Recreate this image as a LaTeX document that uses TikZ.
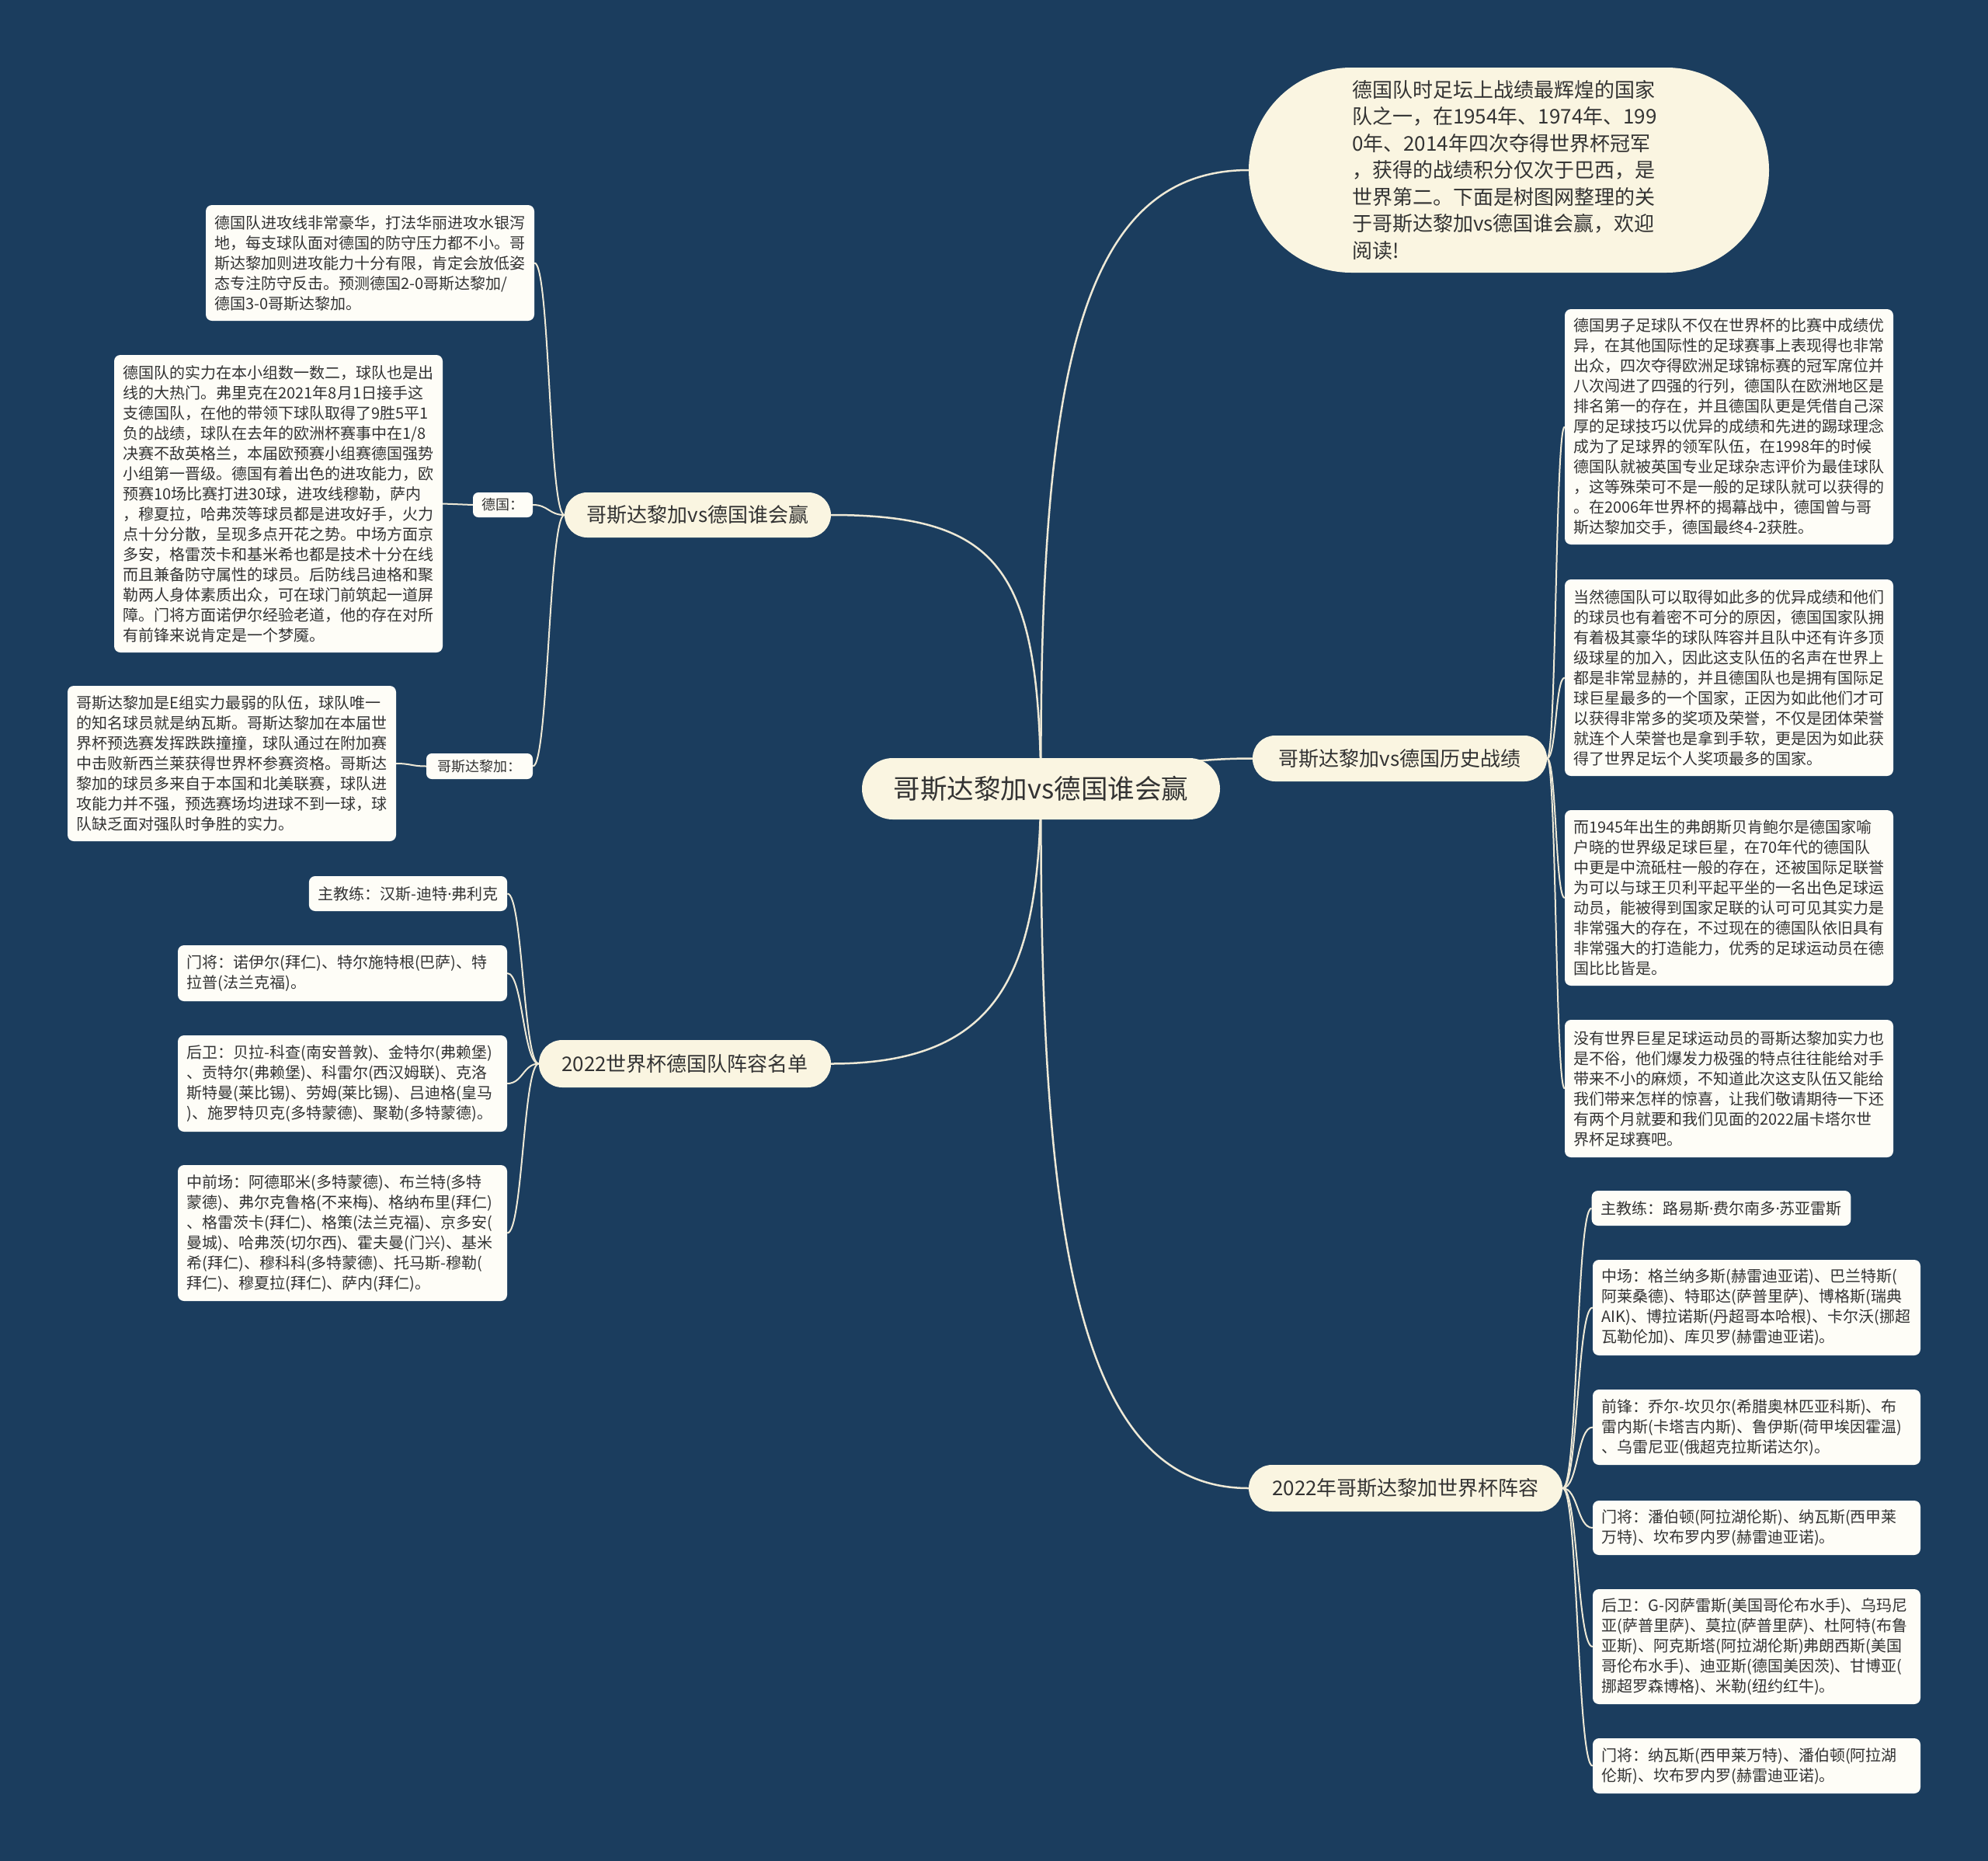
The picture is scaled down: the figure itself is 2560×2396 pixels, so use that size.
\documentclass[tikz,border=0pt]{standalone}
\usepackage{fontspec}
\setmainfont{Noto Sans CJK SC}
\newfontfamily\latinf{Noto Sans}
\newcommand{\mdot}{{\latinf ·}}
\pgfdeclarelayer{bg}
\pgfdeclarelayer{lines}
\pgfsetlayers{bg,lines,main}
\definecolor{bgc}{HTML}{1B3D5E}
\definecolor{creamc}{HTML}{FAF5E1}
\definecolor{leafc}{HTML}{FEFDF7}
\definecolor{textc}{HTML}{333333}
\definecolor{linec}{HTML}{EEE9D6}
\tikzset{
  leaf/.style={fill=leafc, rounded corners=8pt, inner xsep=11.5pt, inner ysep=0pt, align=left, text=textc, font={\fontsize{20}{26}\selectfont}},
  lab/.style={fill=leafc, rounded corners=7pt, inner xsep=8pt, inner ysep=0pt, text=textc, font={\fontsize{18}{22}\selectfont}},
  branch/.style={fill=creamc, inner sep=0pt, text=textc, font={\fontsize{26}{30}\selectfont}},
  conn/.style={draw=linec, line width=2.5pt},
  sub/.style={draw=linec, line width=2pt}
}
\begin{document}
\begin{tikzpicture}[x=1pt,y=-1pt]
\useasboundingbox (0,0) rectangle (2560,2396);
\begin{pgfonlayer}{bg}
\fill[bgc] (0,0) rectangle (2560,2396);
\end{pgfonlayer}

% central
\node[fill=creamc, rounded corners=39.5pt, minimum width=461pt, minimum height=79pt, inner sep=0pt, text=textc, font={\fontsize{34.5}{38}\selectfont}] (C) at (1340.5,1015.5) {哥斯达黎加vs德国谁会赢};

% top bubble
\node[fill=creamc, rounded corners=132pt, minimum width=670pt, minimum height=264pt, inner sep=0pt, text width=404pt, align=left, text=textc, font={\fontsize{26}{34.5}\selectfont}] (Top) at (1943,219) {德国队时足坛上战绩最辉煌的国家\\队之一，在1954年、1974年、199\\0年、2014年四次夺得世界杯冠军\\，获得的战绩积分仅次于巴西，是\\世界第二。下面是树图网整理的关\\于哥斯达黎加vs德国谁会赢，欢迎\\阅读!};

% branches
\node[branch, rounded corners=29pt, minimum width=343pt, minimum height=58pt] (B1) at (898.5,663) {哥斯达黎加vs德国谁会赢};
\node[branch, rounded corners=29pt, minimum width=379pt, minimum height=59pt] (B2) at (1802.5,976.5) {哥斯达黎加vs德国历史战绩};
\node[branch, rounded corners=30pt, minimum width=376pt, minimum height=61pt] (B3) at (882,1369.5) {2022世界杯德国队阵容名单};
\node[branch, rounded corners=30pt, minimum width=404pt, minimum height=60pt] (B4) at (1810,1916) {2022年哥斯达黎加世界杯阵容};

% left group of B1
\node[leaf, text width=400pt, minimum height=149pt] (LT) at (476.5,338.5) {德国队进攻线非常豪华，打法华丽进攻水银泻\\地，每支球队面对德国的防守压力都不小。哥\\斯达黎加则进攻能力十分有限，肯定会放低姿\\态专注防守反击。预测德国2-0哥斯达黎加/\\德国3-0哥斯达黎加。};
\node[lab, minimum width=77pt, minimum height=32pt] (LDE) at (647.5,650) {德国：};
\node[lab, minimum width=137pt, minimum height=33pt] (LCR) at (617.5,986.5) {哥斯达黎加：};
\node[leaf, text width=400pt, minimum height=383pt] (LG) at (358.5,648.5) {德国队的实力在本小组数一数二，球队也是出\\线的大热门。弗里克在2021年8月1日接手这\\支德国队，在他的带领下球队取得了9胜5平1\\负的战绩，球队在去年的欧洲杯赛事中在1/8\\决赛不敌英格兰，本届欧预赛小组赛德国强势\\小组第一晋级。德国有着出色的进攻能力，欧\\预赛10场比赛打进30球，进攻线穆勒，萨内\\，穆夏拉，哈弗茨等球员都是进攻好手，火力\\点十分分散，呈现多点开花之势。中场方面京\\多安，格雷茨卡和基米希也都是技术十分在线\\而且兼备防守属性的球员。后防线吕迪格和聚\\勒两人身体素质出众，可在球门前筑起一道屏\\障。门将方面诺伊尔经验老道，他的存在对所\\有前锋来说肯定是一个梦魇。};
\node[leaf, text width=400pt, minimum height=200pt] (LC) at (298.5,983) {哥斯达黎加是E组实力最弱的队伍，球队唯一\\的知名球员就是纳瓦斯。哥斯达黎加在本届世\\界杯预选赛发挥跌跌撞撞，球队通过在附加赛\\中击败新西兰莱获得世界杯参赛资格。哥斯达\\黎加的球员多来自于本国和北美联赛，球队进\\攻能力并不强，预选赛场均进球不到一球，球\\队缺乏面对强队时争胜的实力。};

% left group of B3
\node[leaf, minimum width=255pt, minimum height=45pt] (DCo) at (525.5,1150.5) {主教练：汉斯-迪特\mdot 弗利克};
\node[leaf, text width=401pt, minimum height=72pt] (DGK) at (441,1253) {门将：诺伊尔(拜仁)、特尔施特根(巴萨)、特\\拉普(法兰克福)。};
\node[leaf, text width=401pt, minimum height=124pt] (DDF) at (441,1395) {后卫：贝拉-科查(南安普敦)、金特尔(弗赖堡)\\、贡特尔(弗赖堡)、科雷尔(西汉姆联)、克洛\\斯特曼(莱比锡)、劳姆(莱比锡)、吕迪格(皇马\\)、施罗特贝克(多特蒙德)、聚勒(多特蒙德)。};
\node[leaf, text width=401pt, minimum height=175pt] (DMF) at (441,1587.5) {中前场：阿德耶米(多特蒙德)、布兰特(多特\\蒙德)、弗尔克鲁格(不来梅)、格纳布里(拜仁)\\、格雷茨卡(拜仁)、格策(法兰克福)、京多安(\\曼城)、哈弗茨(切尔西)、霍夫曼(门兴)、基米\\希(拜仁)、穆科科(多特蒙德)、托马斯-穆勒(\\拜仁)、穆夏拉(拜仁)、萨内(拜仁)。};

% right group of B2
\node[leaf, text width=400pt, minimum height=303pt] (R1) at (2226.5,549.5) {德国男子足球队不仅在世界杯的比赛中成绩优\\异，在其他国际性的足球赛事上表现得也非常\\出众，四次夺得欧洲足球锦标赛的冠军席位并\\八次闯进了四强的行列，德国队在欧洲地区是\\排名第一的存在，并且德国队更是凭借自己深\\厚的足球技巧以优异的成绩和先进的踢球理念\\成为了足球界的领军队伍，在1998年的时候\\德国队就被英国专业足球杂志评价为最佳球队\\，这等殊荣可不是一般的足球队就可以获得的\\。在2006年世界杯的揭幕战中，德国曾与哥\\斯达黎加交手，德国最终4-2获胜。};
\node[leaf, text width=400pt, minimum height=253pt] (R2) at (2226.5,872.5) {当然德国队可以取得如此多的优异成绩和他们\\的球员也有着密不可分的原因，德国国家队拥\\有着极其豪华的球队阵容并且队中还有许多顶\\级球星的加入，因此这支队伍的名声在世界上\\都是非常显赫的，并且德国队也是拥有国际足\\球巨星最多的一个国家，正因为如此他们才可\\以获得非常多的奖项及荣誉，不仅是团体荣誉\\就连个人荣誉也是拿到手软，更是因为如此获\\得了世界足坛个人奖项最多的国家。};
\node[leaf, text width=400pt, minimum height=226pt] (R3) at (2226.5,1156) {而1945年出生的弗朗斯贝肯鲍尔是德国家喻\\户晓的世界级足球巨星，在70年代的德国队\\中更是中流砥柱一般的存在，还被国际足联誉\\为可以与球王贝利平起平坐的一名出色足球运\\动员，能被得到国家足联的认可可见其实力是\\非常强大的存在，不过现在的德国队依旧具有\\非常强大的打造能力，优秀的足球运动员在德\\国比比皆是。};
\node[leaf, text width=400pt, minimum height=177pt] (R4) at (2226.5,1401.5) {没有世界巨星足球运动员的哥斯达黎加实力也\\是不俗，他们爆发力极强的特点往往能给对手\\带来不小的麻烦，不知道此次这支队伍又能给\\我们带来怎样的惊喜，让我们敬请期待一下还\\有两个月就要和我们见面的2022届卡塔尔世\\界杯足球赛吧。};

% right group of B4
\node[leaf, minimum width=331pt, minimum height=45pt] (CCo) at (2216.5,1555.5) {主教练：路易斯\mdot 费尔南多\mdot 苏亚雷斯};
\node[leaf, text width=399pt, minimum height=123pt] (CMF) at (2262,1683.5) {中场：格兰纳多斯(赫雷迪亚诺)、巴兰特斯(\\阿莱桑德)、特耶达(萨普里萨)、博格斯(瑞典\\AIK)、博拉诺斯(丹超哥本哈根)、卡尔沃(挪超\\瓦勒伦加)、库贝罗(赫雷迪亚诺)。};
\node[leaf, text width=399pt, minimum height=97pt] (CFW) at (2262,1837.5) {前锋：乔尔-坎贝尔(希腊奥林匹亚科斯)、布\\雷内斯(卡塔吉内斯)、鲁伊斯(荷甲埃因霍温)\\、乌雷尼亚(俄超克拉斯诺达尔)。};
\node[leaf, text width=399pt, minimum height=70pt] (CGK1) at (2262,1967) {门将：潘伯顿(阿拉湖伦斯)、纳瓦斯(西甲莱\\万特)、坎布罗内罗(赫雷迪亚诺)。};
\node[leaf, text width=399pt, minimum height=148pt] (CDF) at (2262,2120) {后卫：G-冈萨雷斯(美国哥伦布水手)、乌玛尼\\亚(萨普里萨)、莫拉(萨普里萨)、杜阿特(布鲁\\亚斯)、阿克斯塔(阿拉湖伦斯)弗朗西斯(美国\\哥伦布水手)、迪亚斯(德国美因茨)、甘博亚(\\挪超罗森博格)、米勒(纽约红牛)。};
\node[leaf, text width=399pt, minimum height=71pt] (CGK2) at (2262,2273.5) {门将：纳瓦斯(西甲莱万特)、潘伯顿(阿拉湖\\伦斯)、坎布罗内罗(赫雷迪亚诺)。};

\begin{pgfonlayer}{lines}
% from central node
\draw[conn] (C.center) .. controls (1338,490) and (1388,219) .. (Top.west);
\draw[conn] (C.center) .. controls (1338,735) and (1290,663) .. (B1.east);
\draw[conn] (C.center) .. controls (1450,1005) and (1480,976.5) .. (B2.west);
\draw[conn] (C.center) .. controls (1338,1250) and (1290,1369.5) .. (B3.east);
\draw[conn] (C.center) .. controls (1338,1600) and (1390,1916) .. (B4.west);
% B1
\draw[sub] (B1.west) .. controls +(-20,0) and +(20,0) .. (LT.east);
\draw[sub] (B1.west) .. controls +(-20,0) and +(20,0) .. (LDE.east);
\draw[sub] (B1.west) .. controls +(-20,0) and +(20,0) .. (LCR.east);
\draw[sub] (LDE.west) .. controls +(-19,0) and +(19,0) .. (LG.east);
\draw[sub] (LCR.west) .. controls +(-19,0) and +(19,0) .. (LC.east);
% B3
\draw[sub] (B3.west) .. controls +(-20,0) and +(20,0) .. (DCo.east);
\draw[sub] (B3.west) .. controls +(-20,0) and +(20,0) .. (DGK.east);
\draw[sub] (B3.west) .. controls +(-20,0) and +(20,0) .. (DDF.east);
\draw[sub] (B3.west) .. controls +(-20,0) and +(20,0) .. (DMF.east);
% B2
\draw[sub] (B2.east) .. controls +(12,0) and +(-12,0) .. (R1.west);
\draw[sub] (B2.east) .. controls +(12,0) and +(-12,0) .. (R2.west);
\draw[sub] (B2.east) .. controls +(12,0) and +(-12,0) .. (R3.west);
\draw[sub] (B2.east) .. controls +(12,0) and +(-12,0) .. (R4.west);
% B4
\draw[sub] (B4.east) .. controls +(20,0) and +(-20,0) .. (CCo.west);
\draw[sub] (B4.east) .. controls +(20,0) and +(-20,0) .. (CMF.west);
\draw[sub] (B4.east) .. controls +(20,0) and +(-20,0) .. (CFW.west);
\draw[sub] (B4.east) .. controls +(20,0) and +(-20,0) .. (CGK1.west);
\draw[sub] (B4.east) .. controls +(20,0) and +(-20,0) .. (CDF.west);
\draw[sub] (B4.east) .. controls +(20,0) and +(-20,0) .. (CGK2.west);
\end{pgfonlayer}
\end{tikzpicture}
\end{document}
